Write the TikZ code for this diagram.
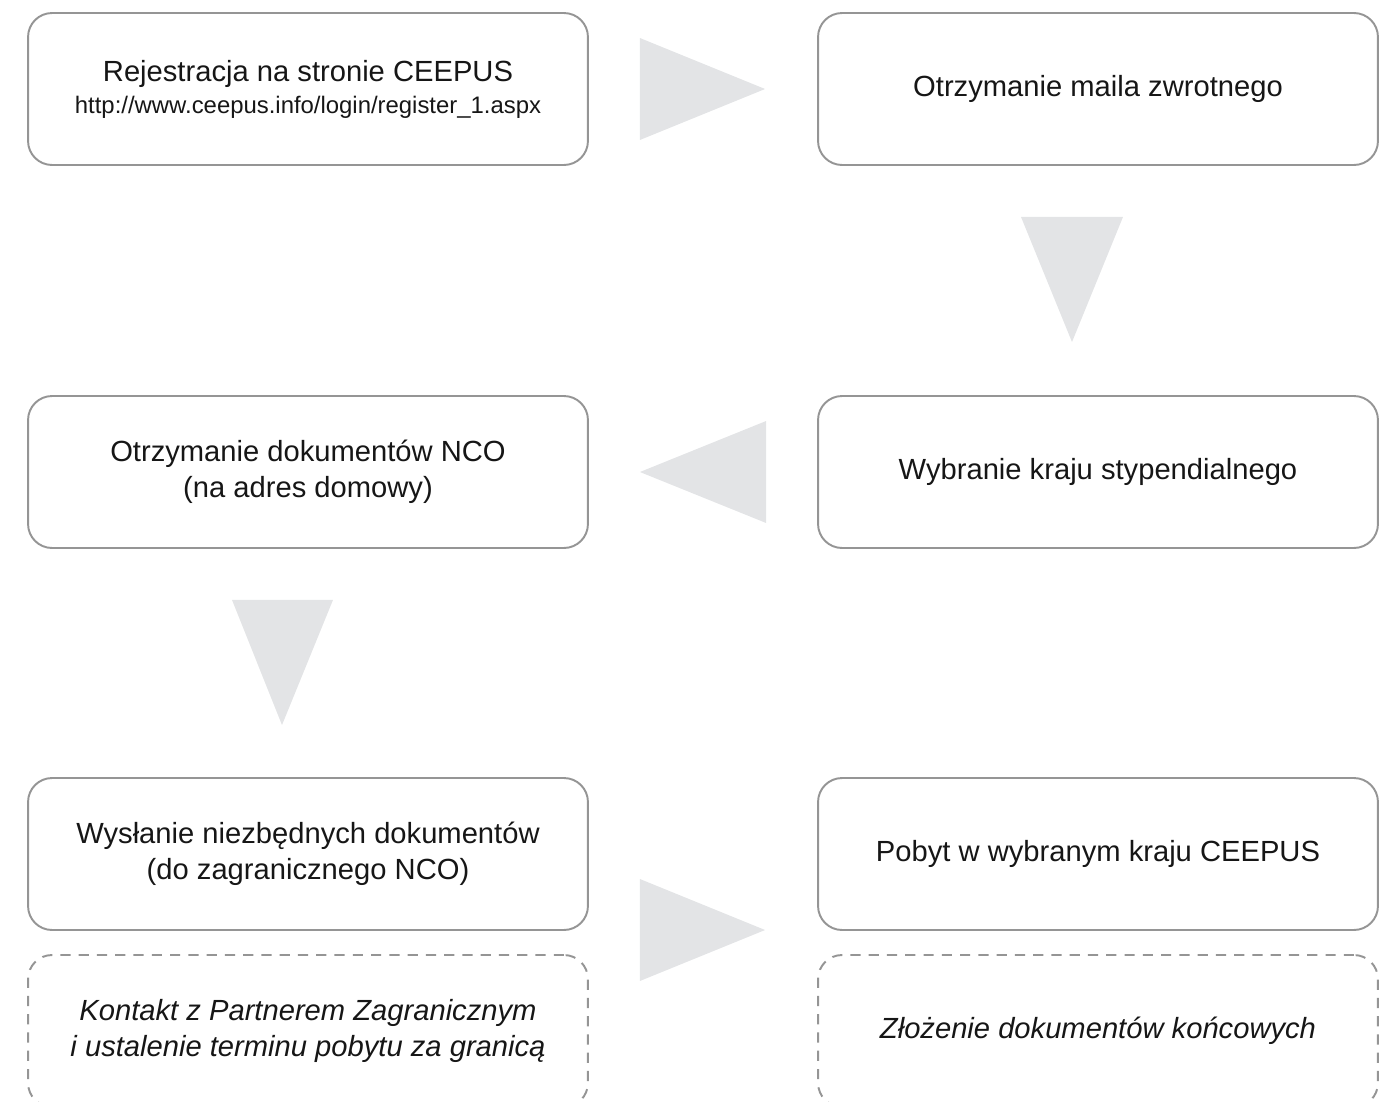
\documentclass[tikz,border=0pt]{standalone}
\usepackage{fontspec}
\setmainfont{Liberation Sans}
\usepackage{tikz}
\usetikzlibrary{calc}

\definecolor{boxline}{HTML}{959595}
\definecolor{arrowgray}{HTML}{E3E4E6}
\definecolor{txt}{HTML}{161616}

\begin{document}
\begin{tikzpicture}[
      x = 0.02cm, y = -0.02cm,
      stepbox/.style = {
        draw = boxline, line width = 1.1pt, rounded corners = 0.48cm,
        minimum width = 11.2cm, minimum height = 3.04cm,
        align = center, text = txt,
        font = \fontsize{16.6}{20.3}\selectfont},
      notebox/.style = {
        stepbox, dash pattern = on 5.8pt off 4.6pt,
        font = \fontsize{16.6}{20.3}\selectfont\itshape},
      arrowtri/.style = {fill = arrowgray}
      ]
    \useasboundingbox (0,0) rectangle (1390,1102);
    \node[stepbox] (regist) at (308,89) {Rejestracja na stronie CEEPUS\\[-2pt]
      {\fontsize{13.6}{16}\selectfont http://www.ceepus.info/login/register\_1.aspx}}; % 1
    \node[stepbox] (mail) at (1098,89) {Otrzymanie maila zwrotnego}; % 2
    \node[stepbox] (kraj) at (1098,472) {Wybranie kraju stypendialnego}; % 3
    \node[stepbox] (dok) at (308,472) {Otrzymanie dokumentów NCO\\(na adres domowy)}; % 4
    \node[stepbox] (wysl) at (308,854) {Wysłanie niezbędnych dokumentów\\(do zagranicznego NCO)}; % 5
    \node[stepbox] (pobyt) at (1098,854) {Pobyt w wybranym kraju CEEPUS}; % 6
    \node[notebox] (kontakt) at (308,1031) {Kontakt z Partnerem Zagranicznym\\i ustalenie terminu pobytu za granicą}; % 5a
    \node[notebox] (zloz) at (1098,1031) {Złożenie dokumentów końcowych}; % 6a
    % arrows between the steps
    \fill[arrowtri] ($(regist.east)+(51,-51)$) -- ($(regist.east)+(51,51)$)
      -- ($(mail.west)+(-52,0)$) -- cycle;
    \fill[arrowtri] ($(mail.south)+(-77,51)$) -- ($(mail.south)+(25,51)$)
      -- ($(kraj.north)+(-26,-53)$) -- cycle;
    \fill[arrowtri] ($(kraj.west)+(-51,-51)$) -- ($(kraj.west)+(-51,51)$)
      -- ($(dok.east)+(51,0)$) -- cycle;
    \fill[arrowtri] ($(dok.south)+(-76,51)$) -- ($(dok.south)+(25,51)$)
      -- ($(wysl.north)+(-26,-52)$) -- cycle;
    \fill[arrowtri] ($(wysl.east)+(51,25)$) -- ($(wysl.east)+(51,127)$)
      -- ($(pobyt.west)+(-52,76)$) -- cycle;
  \end{tikzpicture}
\end{document}
